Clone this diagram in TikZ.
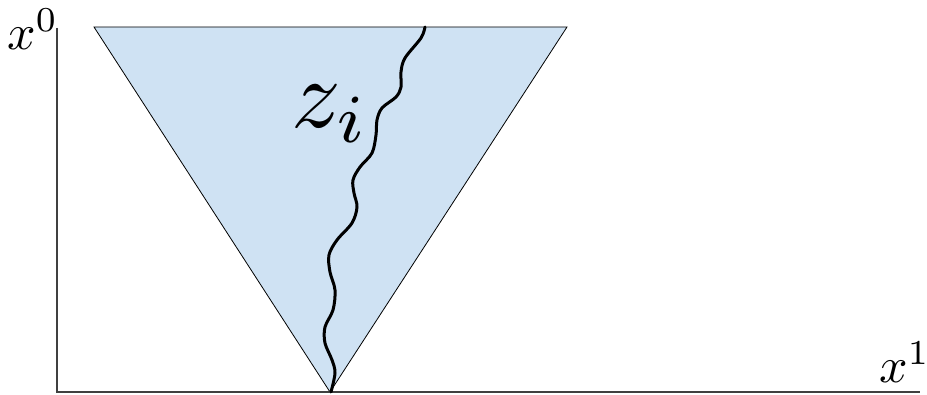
\documentclass[tikz,border=0pt]{standalone}
\usepackage{graphicx}
\definecolor{cone}{RGB}{207,226,243}
\tikzset{
  axis/.style={line width=1.3pt, draw=black!75},
  conestyle/.style={line width=0.8pt, line join=miter},
  world/.style={line width=3pt, line cap=round},
  lab/.style={inner sep=0pt, anchor=base west}
}
\begin{document}
\begin{tikzpicture}[x=1pt,y=-1pt]
\useasboundingbox (0,0) rectangle (927,395);
\coordinate (origin) at (57,392);
\coordinate (ytop) at (57,28);
\coordinate (xend) at (920,392);
\coordinate (tl) at (94,27);
\coordinate (tr) at (567,27);
\coordinate (apex) at (330,392);
\coordinate (wtop) at (425,27);
\fill[cone] (tl) -- (tr) -- (apex) -- cycle;
\draw[conestyle] (tl) -- (tr) -- (apex) -- cycle;
\draw[axis] (ytop) -- (origin) -- (xend);
\draw[world] plot[smooth, tension=0.55] coordinates {(331,392) (335,373) (332,360) (325,343) (325,327) (333,310) (335,290) (330,272) (329,255) (337,240) (352,223) (357,207) (354,193) (353,180) (360,167) (372,153) (376,135) (377,120) (382,108) (396,97) (401,87) (401,72) (405,58) (421,38) (425,27)};
\node[lab] (x0) at (7,50) {\scalebox{5}{$x^0$}};
\node[lab] (x1) at (879,383) {\scalebox{5}{$x^1$}};
\node[lab] (zi) at (291,128) {\scalebox{9.8}{$z_i$}};
\end{tikzpicture}
\end{document}
